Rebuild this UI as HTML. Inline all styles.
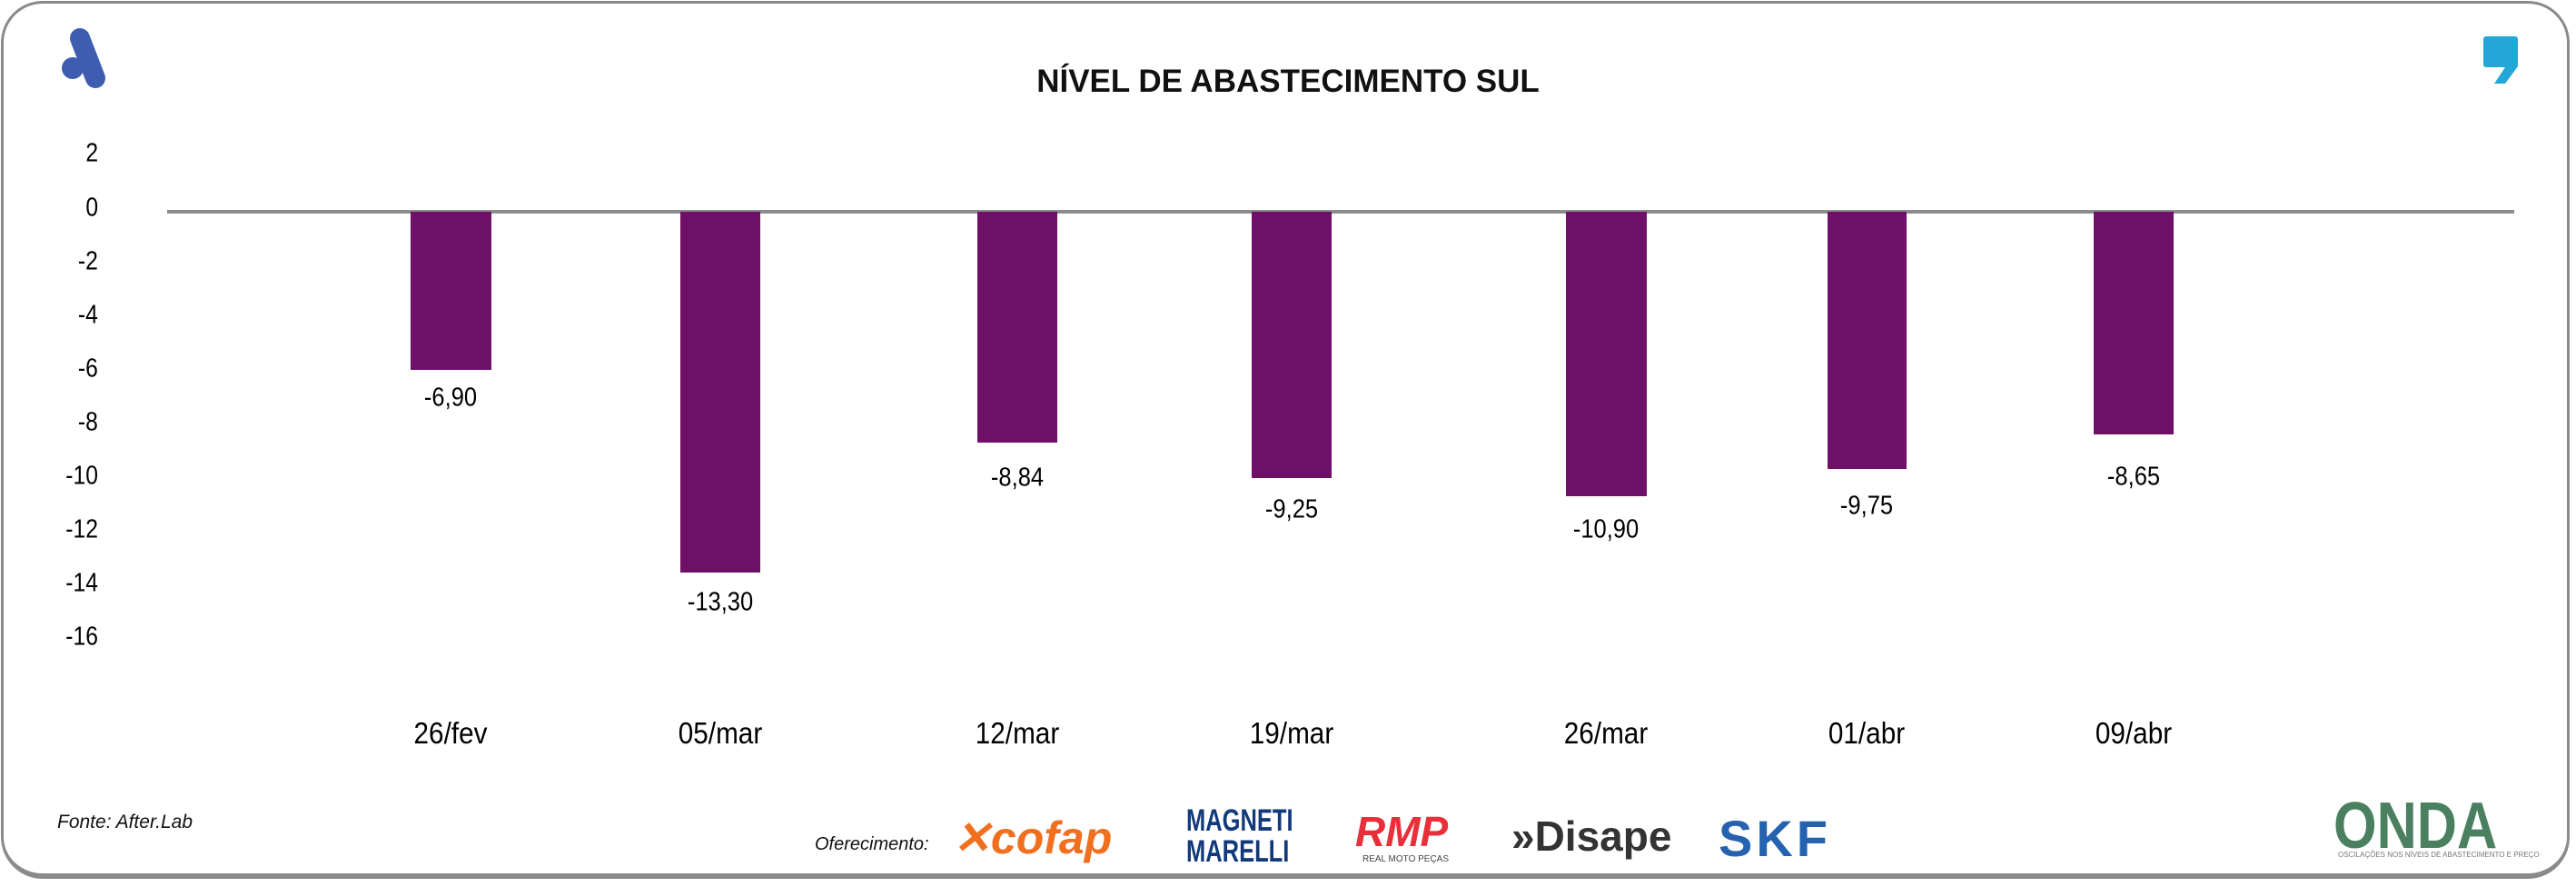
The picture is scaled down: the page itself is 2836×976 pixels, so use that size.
<!DOCTYPE html>
<html><head><meta charset="utf-8"><style>
body{margin:0;width:2836px;height:976px;background:#fff;overflow:hidden;font-family:"Liberation Sans",sans-serif;}
.frame{position:absolute;left:1px;top:1px;width:2828px;height:966px;border:3px solid #8a8a8a;border-bottom-width:6px;border-radius:46px;box-sizing:border-box;}
.t{position:absolute;white-space:nowrap;color:#111;}
.yl{position:absolute;right:2728px;font-size:29px;transform:translateY(-50%) scaleX(0.85);transform-origin:right center;}
.bar{position:absolute;top:233px;background:#6e0f68;}
.dl{position:absolute;font-size:29px;transform:translate(-50%,-50%) scaleX(0.88);}
.xl{position:absolute;top:807px;font-size:33px;transform:translate(-50%,-50%) scaleX(0.9);}
</style></head><body>
<div class="frame"></div>
<svg style="position:absolute;left:60px;top:30px" width="80" height="70">
<circle cx="20" cy="45" r="12" fill="#3e5db0"/>
<line x1="28" y1="12" x2="45" y2="56" stroke="#3e5db0" stroke-width="22" stroke-linecap="round"/>
</svg>
<svg style="position:absolute;left:2733px;top:38px" width="42" height="57">
<path d="M4 2 h32 a3 3 0 0 1 3 3 v30 l-14 19 h-12 l12 -18 h-21 a3 3 0 0 1 -3 -3 v-28 a3 3 0 0 1 3 -3z" fill="#22a7d6"/>
</svg>
<div class="t" style="left:1418px;top:90px;transform:translate(-50%,-50%);font-size:35px;font-weight:bold;">NÍVEL DE ABASTECIMENTO SUL</div>
<div class="yl" style="top:169px">2</div>
<div class="yl" style="top:229px">0</div>
<div class="yl" style="top:288px">-2</div>
<div class="yl" style="top:347px">-4</div>
<div class="yl" style="top:406px">-6</div>
<div class="yl" style="top:465px">-8</div>
<div class="yl" style="top:524px">-10</div>
<div class="yl" style="top:583px">-12</div>
<div class="yl" style="top:642px">-14</div>
<div class="yl" style="top:701px">-16</div>
<div style="position:absolute;left:184px;top:231px;width:2584px;height:4px;background:#8c8c8c"></div>
<div class="bar" style="left:452px;width:89px;height:174px"></div>
<div class="bar" style="left:749px;width:88px;height:397px"></div>
<div class="bar" style="left:1076px;width:88px;height:254px"></div>
<div class="bar" style="left:1378px;width:88px;height:293px"></div>
<div class="bar" style="left:1724px;width:89px;height:313px"></div>
<div class="bar" style="left:2012px;width:87px;height:283px"></div>
<div class="bar" style="left:2305px;width:88px;height:245px"></div>
<div class="dl" style="left:496px;top:438px">-6,90</div>
<div class="dl" style="left:793px;top:663px">-13,30</div>
<div class="dl" style="left:1120px;top:526px">-8,84</div>
<div class="dl" style="left:1422px;top:561px">-9,25</div>
<div class="dl" style="left:1768px;top:583px">-10,90</div>
<div class="dl" style="left:2055px;top:557px">-9,75</div>
<div class="dl" style="left:2349px;top:525px">-8,65</div>
<div class="xl" style="left:496px">26/fev</div>
<div class="xl" style="left:793px">05/mar</div>
<div class="xl" style="left:1120px">12/mar</div>
<div class="xl" style="left:1422px">19/mar</div>
<div class="xl" style="left:1768px">26/mar</div>
<div class="xl" style="left:2055px">01/abr</div>
<div class="xl" style="left:2349px">09/abr</div>
<div class="t" style="left:63px;top:893px;font-size:21px;font-style:italic">Fonte: After.Lab</div>
<div class="t" style="left:897px;top:918px;font-size:20px;font-style:italic">Oferecimento:</div>
<div class="t" style="left:1049px;top:893px;font-size:50px;font-weight:bold;font-style:italic;color:#f07020">✕cofap</div>
<div class="t" style="left:1306px;top:886px;font-size:34px;line-height:34px;font-weight:bold;color:#123a7a;transform:scaleX(0.75);transform-origin:left">MAGNETI<br>MARELLI</div>
<div class="t" style="left:1492px;top:888px;font-size:46px;font-weight:bold;font-style:italic;color:#e8303a">RMP</div>
<div class="t" style="left:1500px;top:940px;font-size:10px;color:#444">REAL MOTO PEÇAS</div>
<div class="t" style="left:1664px;top:893px;font-size:46px;font-weight:bold;color:#333">»Disape</div>
<div class="t" style="left:1892px;top:890px;font-size:56px;font-weight:bold;color:#2563b0;letter-spacing:4px">SKF</div>
<div class="t" style="left:2569px;top:868px;font-size:72px;font-weight:bold;color:#4a8060;transform:scaleX(0.85);transform-origin:left">ONDA</div>
<div class="t" style="left:2574px;top:936px;font-size:8px;color:#777">OSCILAÇÕES NOS NÍVEIS DE ABASTECIMENTO E PREÇO</div>
</body></html>
